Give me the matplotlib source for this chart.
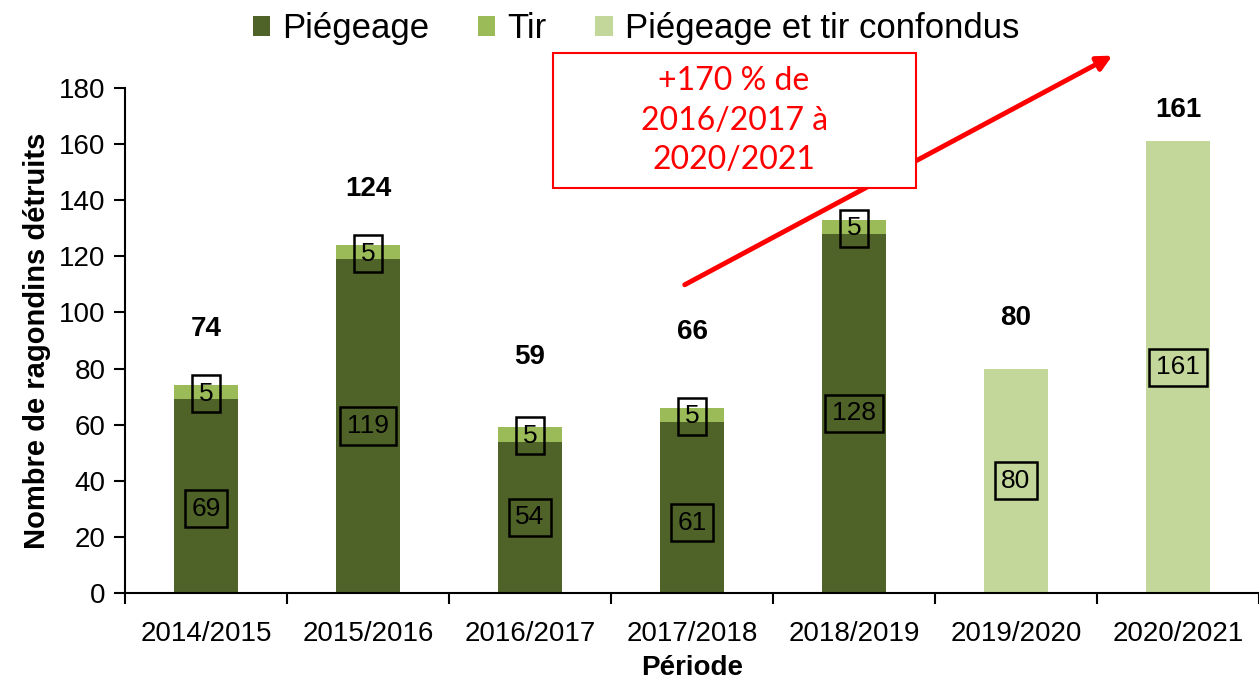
import matplotlib.pyplot as plt
from matplotlib.patches import Rectangle
import numpy as np

# data
periodes = ['2014/2015', '2015/2016', '2016/2017', '2017/2018', '2018/2019', '2019/2020', '2020/2021']
piegeage = [69, 119, 54, 61, 128, 0, 0]
tir = [5, 5, 5, 5, 5, 0, 0]
confondus = [0, 0, 0, 0, 0, 80, 161]
totaux = [74, 124, 59, 66, None, 80, 161]
label_offsets = [20, 20, 25, 27, 0, 18, 11]

c_piege = '#4F6228'
c_tir = '#9BBB59'
c_conf = '#C4D79B'

plt.rcParams['font.family'] = ['Liberation Sans', 'DejaVu Sans']

fig = plt.figure(figsize=(12.59, 6.79), dpi=100)
ax = fig.add_axes([125 / 1259, 1 - 593 / 679, 1134 / 1259, 505 / 679])

x = np.arange(len(periodes))
w = 0.4
ax.bar(x, piegeage, w, color=c_piege, label='Piégeage')
ax.bar(x, tir, w, bottom=piegeage, color=c_tir, label='Tir')
ax.bar(x, confondus, w, color=c_conf, label='Piégeage et tir confondus')

box = dict(boxstyle='square,pad=0.25', fc='none', ec='black', lw=1.8)
for i in range(len(x)):
    if piegeage[i] > 0:
        ypos = piegeage[i] / 2
        if i == 0:
            ypos = 30
        if i == 3:
            ypos = 25
        ax.text(x[i], ypos, str(piegeage[i]), ha='center', va='center', fontsize=19, bbox=box)
        ax.text(x[i], piegeage[i] + tir[i] - 3, str(tir[i]), ha='center', va='center', fontsize=19, bbox=box)
    if confondus[i] > 0:
        ax.text(x[i], confondus[i] / 2, str(confondus[i]), ha='center', va='center', fontsize=19, bbox=box)
    if totaux[i] is not None:
        ax.text(x[i], totaux[i] + label_offsets[i], str(totaux[i]), ha='center', va='center',
                fontsize=20, fontweight='bold', clip_on=False)

ax.set_xlim(-0.5, 6.5)
ax.set_ylim(0, 180)
ax.set_yticks(np.arange(0, 181, 20))
ax.set_xticks(x)
ax.set_xticklabels(periodes)
ax.set_xticks(np.arange(-0.5, 7, 1), minor=True)
ax.tick_params(axis='x', which='major', length=0, labelsize=20, pad=20)
ax.tick_params(axis='x', which='minor', length=8, width=1.5, direction='out')
ax.tick_params(axis='y', labelsize=20, length=8, width=1.5, direction='out', pad=6)
for s in ['top', 'right']:
    ax.spines[s].set_visible(False)
ax.spines['left'].set_linewidth(1.5)
ax.spines['bottom'].set_linewidth(1.5)

ax.set_ylabel('Nombre de ragondins détruits', fontsize=21, fontweight='bold', labelpad=6)
ax.set_xlabel('Période', fontsize=20, fontweight='bold', labelpad=6)

# arrow and red note
ax.annotate('', xy=(5.61, 192), xytext=(2.94, 109.4),
            arrowprops=dict(arrowstyle='-|>', color='red', lw=3.5, mutation_scale=22),
            annotation_clip=False, zorder=3)
ax.add_patch(Rectangle((2.14, 144.4), 2.24, 48.1, fc='white', ec='red', lw=1.5,
                       clip_on=False, zorder=5))
ax.text(3.26, 168.4, '+170 % de\n2016/2017 à\n2020/2021', ha='center', va='center',
        color='red', fontsize=23, family=['Lato', 'DejaVu Sans'], linespacing=1.4,
        zorder=6, clip_on=False)

fig.legend(loc='upper center', bbox_to_anchor=(0.505, 1.028), ncol=3, frameon=False,
           fontsize=25, handlelength=0.5, handleheight=0.5, handletextpad=0.35, columnspacing=1.4)

fig.savefig('out.png', dpi=100)
